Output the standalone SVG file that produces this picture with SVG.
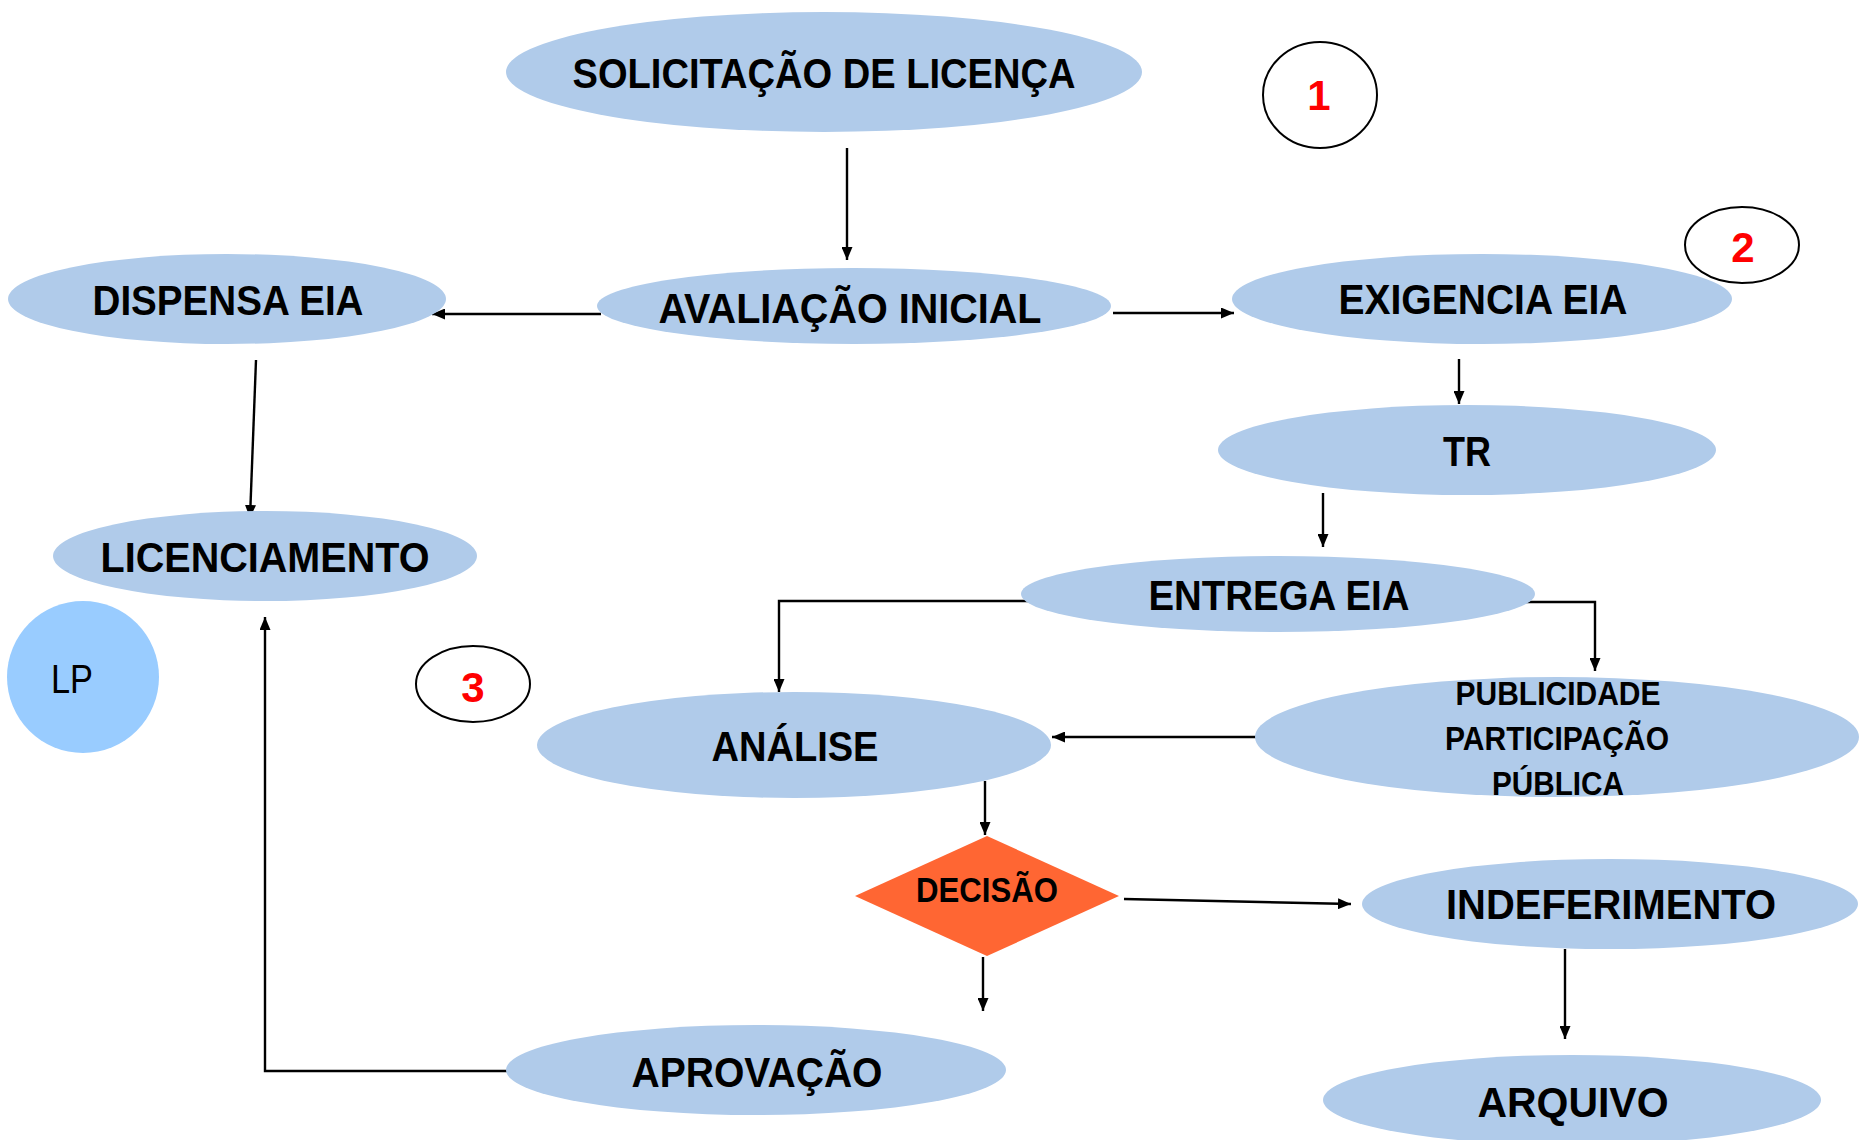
<svg xmlns="http://www.w3.org/2000/svg" width="1860" height="1140" viewBox="0 0 1860 1140">
<style>
.n{fill:#B0CBEA}
.t{font-family:"Liberation Sans",Arial,sans-serif;font-weight:bold;font-size:43px;fill:#000;text-anchor:middle}
.s{font-size:33px}
.num{font-family:"Liberation Sans",Arial,sans-serif;font-weight:bold;font-size:42px;fill:#FF0000;text-anchor:middle}
.ring{fill:#fff;stroke:#000;stroke-width:2}
.c{fill:none;stroke:#000;stroke-width:2.4}
.a{marker-end:url(#ah)}
</style>
<defs>
<marker id="ah" viewBox="0 0 13 11" refX="13" refY="5.5" markerWidth="13" markerHeight="11" markerUnits="userSpaceOnUse" orient="auto">
<path d="M0,0 L13,5.5 L0,11 Z" fill="#000"/>
</marker>
</defs>
<rect width="1860" height="1140" fill="#fff"/>
<g id="connectors">
<path class="c a" d="M847,148 L847,260"/>
<path class="c a" d="M601,314 L432,314"/>
<path class="c a" d="M1113,313 L1234,313"/>
<path class="c a" d="M256,360 L250,518"/>
<path class="c a" d="M1459,359 L1459,404"/>
<path class="c a" d="M1323,493 L1323,547"/>
<path class="c a" d="M1036,601 L779,601 L779,692"/>
<path class="c a" d="M1507,602 L1595,602 L1595,671"/>
<path class="c a" d="M1262,737 L1052,737"/>
<path class="c a" d="M985,781 L985,835"/>
<path class="c a" d="M1124,899 L1351,904"/>
<path class="c a" d="M983,957 L983,1011"/>
<path class="c a" d="M1565,949 L1565,1039"/>
<path class="c a" d="M507,1071 L265,1071 L265,617"/>
</g>
<g id="solicitacao">
<ellipse class="n" cx="824" cy="72" rx="318" ry="60"/>
<text class="t" x="824" y="88" textLength="503" lengthAdjust="spacingAndGlyphs">SOLICITAÇÃO DE LICENÇA</text>
</g>
<g id="marker1">
<ellipse class="ring" cx="1320" cy="95" rx="57" ry="53"/>
<text class="num" x="1319" y="110">1</text>
</g>
<g id="avaliacao">
<ellipse class="n" cx="854" cy="306" rx="257" ry="38"/>
<text class="t" x="850" y="323" textLength="383" lengthAdjust="spacingAndGlyphs">AVALIAÇÃO INICIAL</text>
</g>
<g id="dispensa">
<ellipse class="n" cx="227" cy="299" rx="219" ry="45"/>
<text class="t" x="228" y="315" textLength="271" lengthAdjust="spacingAndGlyphs">DISPENSA EIA</text>
</g>
<g id="exigencia">
<ellipse class="n" cx="1482" cy="299" rx="250" ry="45"/>
<text class="t" x="1483" y="314" textLength="289" lengthAdjust="spacingAndGlyphs">EXIGENCIA EIA</text>
</g>
<g id="marker2">
<ellipse class="ring" cx="1742" cy="245" rx="57" ry="38"/>
<text class="num" x="1743" y="262">2</text>
</g>
<g id="licenciamento">
<ellipse class="n" cx="265" cy="556" rx="212" ry="45"/>
<text class="t" x="265" y="572" textLength="329" lengthAdjust="spacingAndGlyphs">LICENCIAMENTO</text>
</g>
<g id="lp">
<circle cx="83" cy="677" r="76" fill="#99CCFF"/>
<text x="72" y="693" font-family="Liberation Sans, Arial, sans-serif" font-size="40" text-anchor="middle" textLength="42" lengthAdjust="spacingAndGlyphs">LP</text>
</g>
<g id="marker3">
<ellipse class="ring" cx="473" cy="684" rx="57" ry="38"/>
<text class="num" x="473" y="702">3</text>
</g>
<g id="tr">
<ellipse class="n" cx="1467" cy="450" rx="249" ry="45"/>
<text class="t" x="1467" y="466" textLength="48" lengthAdjust="spacingAndGlyphs">TR</text>
</g>
<g id="entrega">
<ellipse class="n" cx="1278" cy="594" rx="257" ry="38"/>
<text class="t" x="1279" y="610" textLength="261" lengthAdjust="spacingAndGlyphs">ENTREGA EIA</text>
</g>
<g id="publicidade">
<ellipse class="n" cx="1557" cy="737" rx="302" ry="60"/>
<text class="t s" x="1558" y="705" textLength="205" lengthAdjust="spacingAndGlyphs">PUBLICIDADE</text>
<text class="t s" x="1557" y="750" textLength="224" lengthAdjust="spacingAndGlyphs">PARTICIPAÇÃO</text>
<text class="t s" x="1558" y="795" textLength="132" lengthAdjust="spacingAndGlyphs">PÚBLICA</text>
</g>
<g id="analise">
<ellipse class="n" cx="794" cy="745" rx="257" ry="53"/>
<text class="t" x="795" y="761" textLength="167" lengthAdjust="spacingAndGlyphs">ANÁLISE</text>
</g>
<g id="decisao">
<polygon points="987,836 1119,896 987,956 855,896" fill="#FF6633"/>
<text class="t" x="987" y="902" style="font-size:35px" textLength="142" lengthAdjust="spacingAndGlyphs">DECISÃO</text>
</g>
<g id="indeferimento">
<ellipse class="n" cx="1610" cy="904" rx="248" ry="45"/>
<text class="t" x="1611" y="919" textLength="330" lengthAdjust="spacingAndGlyphs">INDEFERIMENTO</text>
</g>
<g id="aprovacao">
<ellipse class="n" cx="756" cy="1070" rx="250" ry="45"/>
<text class="t" x="757" y="1087" textLength="251" lengthAdjust="spacingAndGlyphs">APROVAÇÃO</text>
</g>
<g id="arquivo">
<ellipse class="n" cx="1572" cy="1100" rx="249" ry="45"/>
<text class="t" x="1573" y="1117" textLength="191" lengthAdjust="spacingAndGlyphs">ARQUIVO</text>
</g>
</svg>
